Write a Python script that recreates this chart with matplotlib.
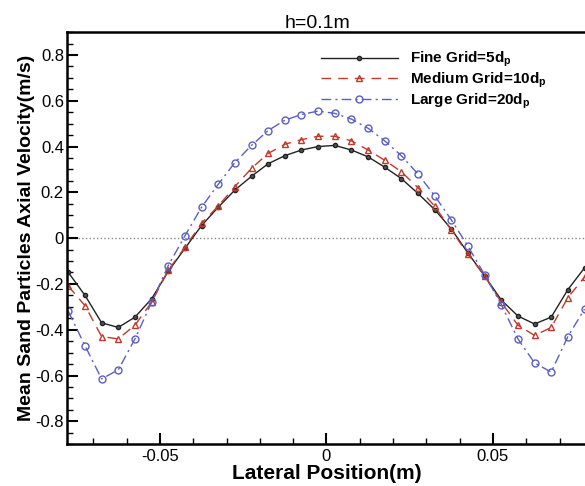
import numpy as np
import matplotlib
matplotlib.use('Agg')
import matplotlib.pyplot as plt
from matplotlib.ticker import MultipleLocator

plt.rcParams['font.family'] = ['Liberation Sans', 'DejaVu Sans']
plt.rcParams['mathtext.default'] = 'regular'

x_pos = [-0.0775, -0.0725, -0.0675, -0.0625, -0.0575, -0.0525, -0.0475, -0.0425,
         -0.0375, -0.0325, -0.0275, -0.0225, -0.0175, -0.0125, -0.0075, -0.0025,
         0.0025, 0.0075, 0.0125, 0.0175, 0.0225, 0.0275, 0.0325, 0.0375,
         0.0425, 0.0475, 0.0525, 0.0575, 0.0625, 0.0675, 0.0725, 0.0775]

fine = [-0.15, -0.25, -0.37, -0.39, -0.345, -0.265, -0.145, -0.045,
        0.055, 0.135, 0.21, 0.27, 0.325, 0.36, 0.385, 0.40,
        0.405, 0.385, 0.355, 0.31, 0.26, 0.195, 0.125, 0.04,
        -0.065, -0.165, -0.27, -0.34, -0.375, -0.345, -0.225, -0.13]

medium = [-0.21, -0.295, -0.43, -0.44, -0.38, -0.28, -0.14, -0.04,
          0.065, 0.14, 0.225, 0.305, 0.37, 0.41, 0.43, 0.445,
          0.445, 0.425, 0.385, 0.34, 0.29, 0.22, 0.14, 0.035,
          -0.07, -0.165, -0.28, -0.38, -0.425, -0.39, -0.26, -0.17]

large = [-0.32, -0.47, -0.615, -0.575, -0.44, -0.28, -0.12, 0.01,
         0.135, 0.235, 0.33, 0.405, 0.47, 0.515, 0.54, 0.555,
         0.545, 0.52, 0.48, 0.425, 0.36, 0.28, 0.185, 0.08,
         -0.035, -0.16, -0.29, -0.44, -0.545, -0.585, -0.43, -0.31]

labels = ['Fine Grid=5d$_p$', 'Medium Grid=10d$_p$', 'Large Grid=20d$_p$']

fig = plt.figure(figsize=(5.85, 4.86), dpi=100)
ax = fig.add_axes([0.114, 0.086, 0.888, 0.848])

ax.axhline(0, color='#888888', linestyle=':', linewidth=1, zorder=1)

ax.plot(x_pos, fine, color='#222222', linestyle='-', linewidth=1,
        marker='o', markersize=3, markerfacecolor='#555555',
        markeredgecolor='#222222', label=labels[0])
ax.plot(x_pos, medium, color='#c0392b', linestyle=(0, (7, 5)), linewidth=1,
        marker='^', markersize=4, markerfacecolor='none',
        markeredgecolor='#c0392b', label=labels[1])
ax.plot(x_pos, large, color='#5a5fc0', linestyle=(0, (7, 3, 1.5, 3)), linewidth=1,
        marker='o', markersize=5, markerfacecolor='none',
        markeredgecolor='#5a5fc0', label=labels[2])

ax.set_xlim(-0.078, 0.078)
ax.set_ylim(-0.9, 0.9)
ax.xaxis.set_minor_locator(MultipleLocator(0.01))
ax.yaxis.set_minor_locator(MultipleLocator(0.05))
ax.set_xticks([-0.05, 0, 0.05])
ax.set_xticklabels(['-0.05', '0', '0.05'])
ax.set_yticks([-0.8, -0.6, -0.4, -0.2, 0, 0.2, 0.4, 0.6, 0.8])
ax.set_yticklabels(['-0.8', '-0.6', '-0.4', '-0.2', '0', '0.2', '0.4', '0.6', '0.8'])
ax.tick_params(which='major', direction='in', length=8, width=1.5, labelsize=12)
ax.tick_params(axis='y', which='major', pad=2)
ax.tick_params(which='minor', direction='in', length=4, width=1)
for s in ax.spines.values():
    s.set_linewidth(1.8)

ax.set_title('h=0.1m', fontsize=14, pad=3, x=0.483)
ax.set_xlabel('Lateral Position(m)', fontsize=15, fontweight='bold', labelpad=0)
ax.set_ylabel('Mean Sand Particles Axial Velocity(m/s)', fontsize=14,
              fontweight='bold', labelpad=0)

leg = ax.legend(loc='upper right', bbox_to_anchor=(0.95, 0.99), frameon=False,
                handlelength=5, prop={'weight': 'bold', 'size': 11},
                labelspacing=0.1, handletextpad=0.8)

fig.savefig('out.png', dpi=100)
